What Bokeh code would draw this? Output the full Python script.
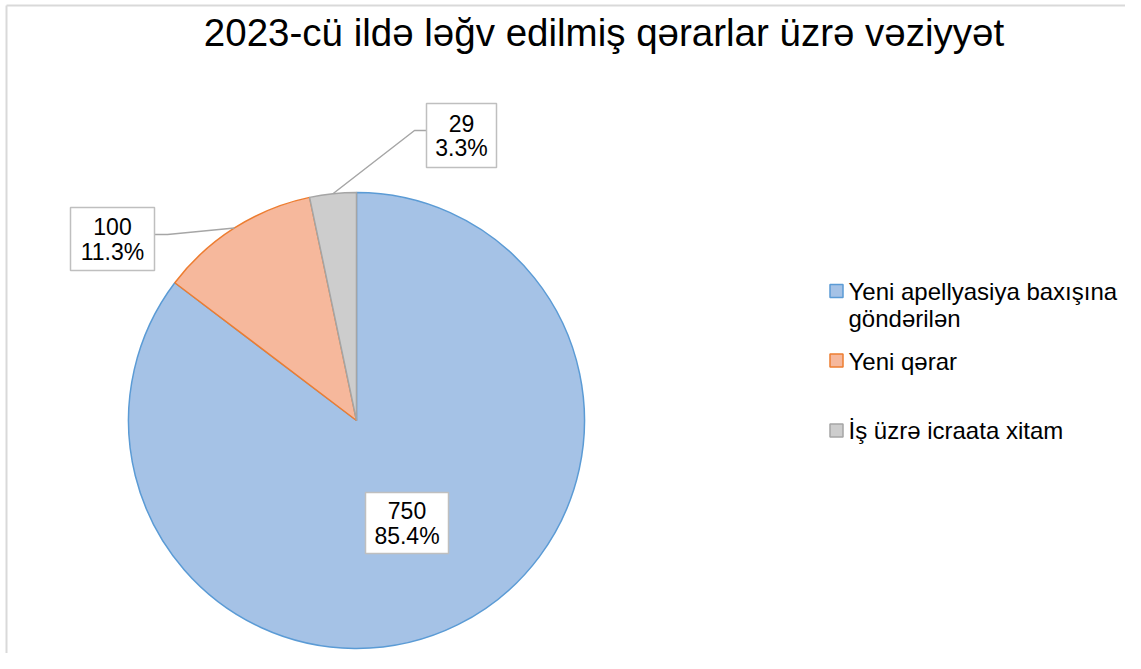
import math
from bokeh.plotting import figure
from bokeh.models import Range1d
from bokeh.core.properties import value
from bokeh.embed import file_html
from bokeh.resources import INLINE

# ---- data ----
title = "2023-cü ildə ləğv edilmiş qərarlar üzrə vəziyyət"
categories = ["Yeni apellyasiya baxışına göndərilən", "Yeni qərar", "İş üzrə icraata xitam"]
legend_lines = [["Yeni apellyasiya baxışına", "göndərilən"], ["Yeni qərar"], ["İş üzrə icraata xitam"]]
counts = [750, 100, 29]
percents = ["85.4%", "11.3%", "3.3%"]

# ---- style ----
fills = ["#a5c2e6", "#f6b89c", "#cdcdcd"]
edges = ["#5b9bd5", "#ed7d31", "#a5a5a5"]
FONT = value("Liberation Sans")

W, H = 1125, 653
def Y(py):  # image y -> data y
    return H - py

p = figure(width=W, height=H, output_backend="svg", toolbar_location=None,
           x_range=Range1d(0, W), y_range=Range1d(0, H),
           min_border=0, outline_line_color=None)
p.axis.visible = False
p.grid.visible = False
p.background_fill_color = "white"
p.border_fill_color = "white"

# frame lines (left and top)
p.segment(x0=[6, 6], y0=[0, Y(5)], x1=[6, W], y1=[Y(5), Y(5)], line_color="#d9d9d9", line_width=2)

# title
p.text(x=[603.5], y=[Y(32)], text=[title], text_font=FONT, text_font_size="38.5px",
       text_align="center", text_baseline="middle", text_color="#000000")

# pie
cx, cy, r = 356, Y(420), 228
total = sum(counts)
cum = 0
mids = []
for i, c in enumerate(counts):
    a0 = 90 - 360 * cum / total
    cum += c
    a1 = 90 - 360 * cum / total
    mids.append((a0 + a1) / 2)
    p.wedge(x=cx, y=cy, radius=r, start_angle=math.radians(a0), end_angle=math.radians(a1),
            direction="clock", fill_color=fills[i], line_color=edges[i], line_width=1.5)

# leader lines
lead = {1: (154, 234, 167), 2: (426, 130, 414)}
for i, (bx, by, kx) in lead.items():
    ex = cx + r * math.cos(math.radians(mids[i]))
    ey = cy + r * math.sin(math.radians(mids[i]))
    p.line(x=[bx, kx, ex], y=[Y(by), Y(by), ey], line_color="#a6a6a6", line_width=1.5)

# label boxes
boxes = [(406.5, 522.5, 83, 61), (112, 238.5, 84, 63), (461, 135, 70, 64)]
for i, (bx, by, bw, bh) in enumerate(boxes):
    p.rect(x=bx, y=Y(by), width=bw, height=bh, fill_color="white",
           line_color="#bfbfbf", line_width=1.5)
    p.text(x=[bx, bx], y=[Y(by - 12.5), Y(by + 12.5)], text=[str(counts[i]), percents[i]],
           text_font=FONT, text_font_size="23px", text_align="center",
           text_baseline="middle", text_color="#000000")

# legend
leg_mid = [291, 361, 430]
sq_center = [290.5, 360, 430]
for i, lines in enumerate(legend_lines):
    p.rect(x=836, y=Y(sq_center[i]), width=13, height=13, fill_color=fills[i],
           line_color=edges[i], line_width=1.5)
    for j, t in enumerate(lines):
        p.text(x=[848], y=[Y(leg_mid[i] + 27 * j)], text=[t], text_font=FONT,
               text_font_size="24px", text_align="left", text_baseline="middle",
               text_color="#000000")

open("out.html", "w").write(file_html(p, INLINE))
